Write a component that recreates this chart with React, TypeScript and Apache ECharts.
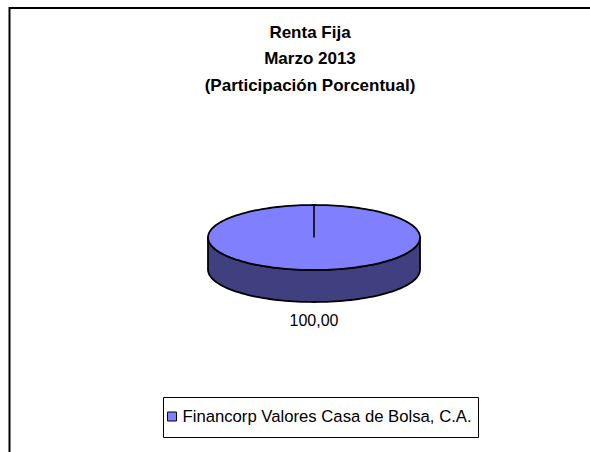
import React, { useEffect, useRef } from "react";
import * as echarts from "echarts";

const categories = ["Financorp Valores Casa de Bolsa, C.A."];
const values = [100];
const titleLines = ["Renta Fija", "Marzo 2013", "(Participación Porcentual)"];

const TOP_COLORS = ["#8080FF"];
const SIDE_COLORS = ["#404080"];

export default function App() {
  const ref = useRef<HTMLDivElement>(null);
  useEffect(() => {
    document.body.style.margin = "0";
    const chart = echarts.init(ref.current!, null, { renderer: "svg" });
    const total = values.reduce((a, b) => a + b, 0);
    const cx = 314, cy = 237.5, rx = 106, ry = 32.5, depth = 32;
    const pt = (t: number, dy = 0) => [cx + rx * Math.sin(t), cy - ry * Math.cos(t) + dy];

    const renderItem = (params: any, api: any) => {
      const idx = params.dataIndex;
      let before = 0;
      for (let i = 0; i < idx; i++) before += values[i];
      const start = (before / total) * Math.PI * 2;
      const end = ((before + values[idx]) / total) * Math.PI * 2;
      const full = end - start >= Math.PI * 2 - 1e-6;
      const steps = 160;
      const children: any[] = [];
      const s = Math.max(start, Math.PI / 2);
      const e = Math.min(end, (Math.PI * 3) / 2);
      if (s < e) {
        const pts: number[][] = [];
        const n = Math.max(2, Math.ceil(((e - s) / (Math.PI * 2)) * steps));
        for (let k = 0; k <= n; k++) pts.push(pt(s + ((e - s) * k) / n));
        for (let k = n; k >= 0; k--) pts.push(pt(s + ((e - s) * k) / n, depth));
        children.push({
          type: "polygon",
          shape: { points: pts },
          style: { fill: SIDE_COLORS[idx % SIDE_COLORS.length], stroke: "#000", lineWidth: 1.8, lineJoin: "round" },
        });
      }
      const topPts: number[][] = [];
      const n2 = Math.max(2, Math.ceil(((end - start) / (Math.PI * 2)) * steps));
      if (!full) topPts.push([cx, cy]);
      for (let k = 0; k <= n2; k++) topPts.push(pt(start + ((end - start) * k) / n2));
      children.push({
        type: "polygon",
        shape: { points: topPts },
        style: { fill: TOP_COLORS[idx % TOP_COLORS.length], stroke: "#000", lineWidth: 1.8, lineJoin: "round" },
      });
      if (full) {
        const p = pt(start);
        children.push({
          type: "line",
          shape: { x1: cx, y1: cy, x2: p[0], y2: p[1] },
          style: { stroke: "#000", lineWidth: 1.6 },
        });
      }
      const m = (start + end) / 2;
      const lx = cx + (rx + 18) * Math.sin(m);
      const ly = cy - (ry + 18) * Math.cos(m) + (Math.cos(m) < 0 ? depth : 0);
      children.push({
        type: "text",
        x: lx,
        y: ly,
        style: {
          text: values[idx].toFixed(2).replace(".", ","),
          fill: "#000",
          font: "16px 'Liberation Sans', Arial, sans-serif",
          align: "center",
          verticalAlign: "middle",
        },
      });
      return { type: "group", children };
    };

    chart.setOption({
      animation: false,
      backgroundColor: "#fff",
      title: {
        text: titleLines.join("\n"),
        left: 310,
        top: 19,
        padding: 0,
        textAlign: "center",
        textStyle: {
          fontFamily: "'Liberation Sans', Arial, sans-serif",
          fontWeight: "bold",
          fontSize: 17,
          lineHeight: 26.5,
          color: "#000",
        },
      },
      legend: {
        data: categories,
        left: 167,
        top: 408,
        padding: 0,
        icon: "rect",
        itemWidth: 9,
        itemHeight: 9,
        itemGap: 6,
        itemStyle: { borderColor: "#000", borderWidth: 1 },
        textStyle: { fontFamily: "'Liberation Sans', Arial, sans-serif", fontSize: 16.7, color: "#000", padding: [0, 0, 0, 1] },
      },
      graphic: [
        {
          type: "rect",
          z: 0,
          shape: { x: 9.5, y: 8, width: 700, height: 600 },
          style: { fill: "none", stroke: "#000", lineWidth: 2 },
        },
        {
          type: "rect",
          z: 0,
          shape: { x: 163.5, y: 397.5, width: 315, height: 40 },
          style: { fill: "#fff", stroke: "#000", lineWidth: 1 },
        },
      ],
      series: [
        {
          type: "custom",
          name: categories[0],
          coordinateSystem: "none",
          itemStyle: { color: TOP_COLORS[0] },
          renderItem,
          data: values.map((v, i) => ({ name: categories[i], value: v })),
        },
      ],
    });
    return () => chart.dispose();
  }, []);
  return <div ref={ref} style={{ width: 590, height: 452 }} />;
}
